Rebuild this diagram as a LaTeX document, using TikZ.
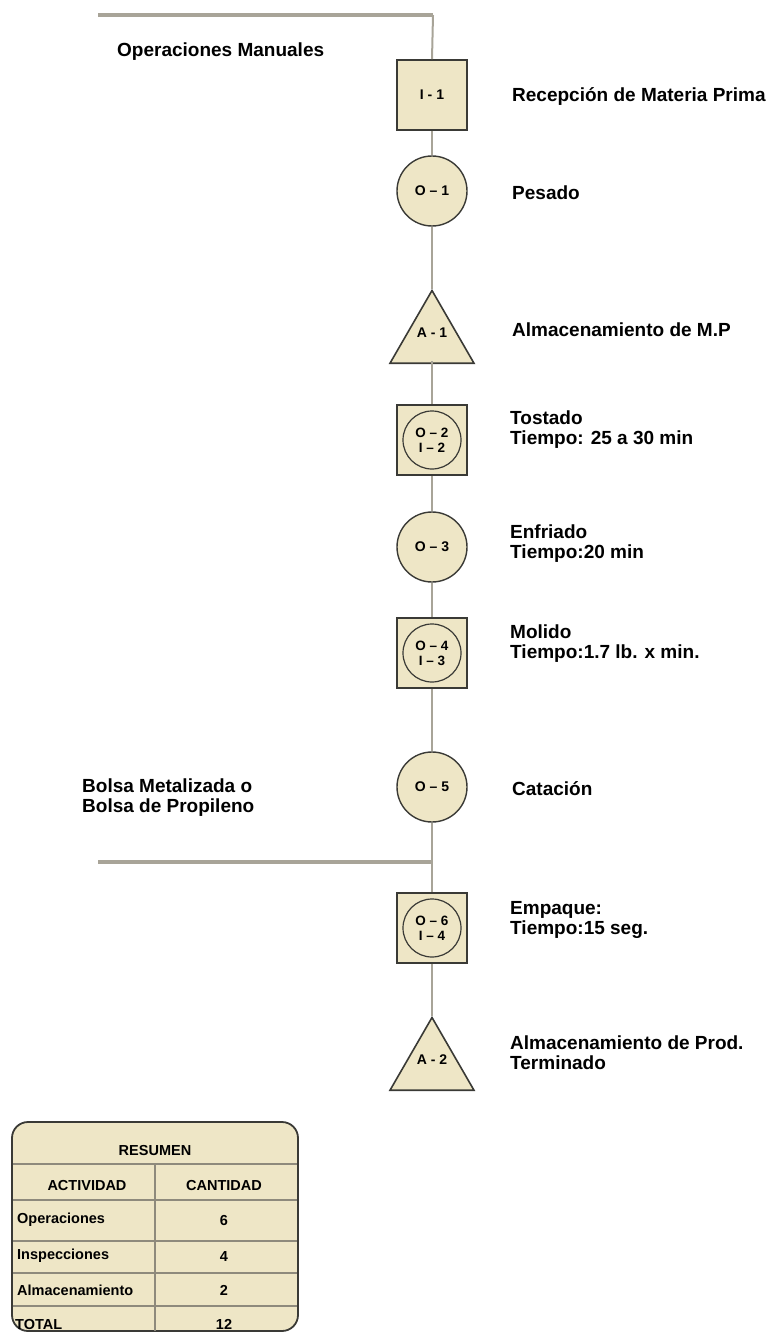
\documentclass[tikz,border=0pt]{standalone}
\usepackage{fontspec}
\setmainfont{Liberation Sans}
\usetikzlibrary{shapes.geometric}
\definecolor{beige}{HTML}{EEE6C6}
\definecolor{edge}{HTML}{3A3A36}
\definecolor{conn}{HTML}{A8A498}
\definecolor{tline}{HTML}{8E8A7C}
\tikzset{
  boxnode/.style={draw=edge,line width=1.8pt,fill=beige,minimum size=70pt,inner sep=0pt,font=\bfseries\fontsize{14}{16}\selectfont},
  circnode/.style={draw=edge,line width=1.4pt,fill=beige,circle,minimum size=70pt,inner sep=0pt,font=\bfseries\fontsize{14}{16}\selectfont},
  innercirc/.style={draw=edge,line width=1.2pt,circle,minimum size=58pt,inner sep=0pt,align=center,font=\bfseries\fontsize{13.5}{15}\selectfont},
  trinode/.style={draw=edge,line width=1.6pt,fill=beige,regular polygon,regular polygon sides=3,minimum size=97pt,inner sep=0pt},
  tritext/.style={inner sep=0pt,font=\bfseries\fontsize{14}{16}\selectfont},
  conline/.style={draw=conn,line width=2pt},
  thickline/.style={draw=conn,line width=3.5pt},
  lbl/.style={anchor=west,align=left,inner sep=0pt,font=\bfseries\fontsize{19}{20}\selectfont},
  tcell/.style={inner sep=0pt,font=\bfseries\fontsize{14.5}{16}\selectfont},
}
\begin{document}
\begin{tikzpicture}[x=1pt,y=-1pt]
\useasboundingbox (0,0) rectangle (776,1332);
% nodes
\node[boxnode] (i1) at (432,95) {I - 1};
\node[circnode] (o1) at (432,191) {O – 1};
\node[trinode] (a1) at (432,339) {};
\node[tritext] (a1t) at (432,333) {A - 1};
\node[boxnode] (c2) at (432,440) {};
\node[innercirc] (c2i) at (432,440) {O – 2\\I – 2};
\node[circnode] (o3) at (432,547) {O – 3};
\node[boxnode] (c4) at (432,653) {};
\node[innercirc] (c4i) at (432,653) {O – 4\\I – 3};
\node[circnode] (o5) at (432,787) {O – 5};
\node[boxnode] (c6) at (432,928) {};
\node[innercirc] (c6i) at (432,928) {O – 6\\I – 4};
\node[trinode] (a2) at (432,1066) {};
\node[tritext] (a2t) at (432,1060) {A - 2};
% coordinates
\coordinate (tl) at (98,15);
\coordinate (tc) at (433,15);
\coordinate (ml) at (98,862);
\coordinate (mc) at (433,862);
% connectors
\draw[thickline] (tl) -- (tc);
\draw[conline] (tc) -- (i1.north);
\draw[conline] (i1.south) -- (o1.north);
\draw[conline] (o1.south) -- (a1.corner 1);
\draw[conline] (a1.side 2 |- 0,361) -- (c2.north);
\draw[conline] (c2.south) -- (o3.north);
\draw[conline] (o3.south) -- (c4.north);
\draw[conline] (c4.south) -- (o5.north);
\draw[conline] (o5.south) -- (c6.north);
\draw[thickline] (ml) -- (mc);
\draw[conline] (c6.south) -- (a2.corner 1);
% labels
\node[lbl] (l0) at (117,52) {Operaciones Manuales};
\node[lbl] (l1) at (512,97) {Recepción de Materia Prima};
\node[lbl] (l2) at (512,193) {Pesado};
\node[lbl] (l3) at (512,330) {Almacenamiento de M.P};
\node[lbl] (l4) at (510,430) {Tostado\\Tiempo: 25 a 30 min};
\node[lbl] (l5) at (510,544) {Enfriado\\Tiempo:20 min};
\node[lbl] (l6) at (510,644) {Molido\\Tiempo:1.7 lb. x min.};
\node[lbl] (l7) at (512,789) {Catación};
\node[lbl] (l8) at (82,798) {Bolsa Metalizada o\\Bolsa de Propileno};
\node[lbl] (l9) at (510,920) {Empaque:\\Tiempo:15 seg.};
\node[lbl] (l10) at (510,1053) {Almacenamiento de Prod.\\Terminado};
% table
\draw[draw=edge,line width=1.8pt,fill=beige,rounded corners=16pt] (12,1122) rectangle (298,1331);
\foreach \yy in {1164,1200,1241,1273,1306}{
  \draw[draw=tline,line width=2.4pt] (13,\yy) -- (297,\yy);
}
\draw[draw=tline,line width=1.6pt] (155,1164) -- (155,1331);
\node[tcell] (tres) at (155,1150) {RESUMEN};
\node[tcell] (tact) at (87,1185) {ACTIVIDAD};
\node[tcell] (tcan) at (224,1185) {CANTIDAD};
\node[tcell,anchor=west] (top) at (17,1220) {Operaciones};
\node[tcell] (top2) at (224,1220) {6};
\node[tcell,anchor=west] (tin) at (17,1256) {Inspecciones};
\node[tcell] (tin2) at (224,1256) {4};
\node[tcell,anchor=west] (tal) at (17,1290) {Almacenamiento};
\node[tcell] (tal2) at (224,1290) {2};
\node[tcell,anchor=west] (ttot) at (15,1324) {TOTAL};
\node[tcell] (ttot2) at (224,1324) {12};
\end{tikzpicture}
\end{document}
